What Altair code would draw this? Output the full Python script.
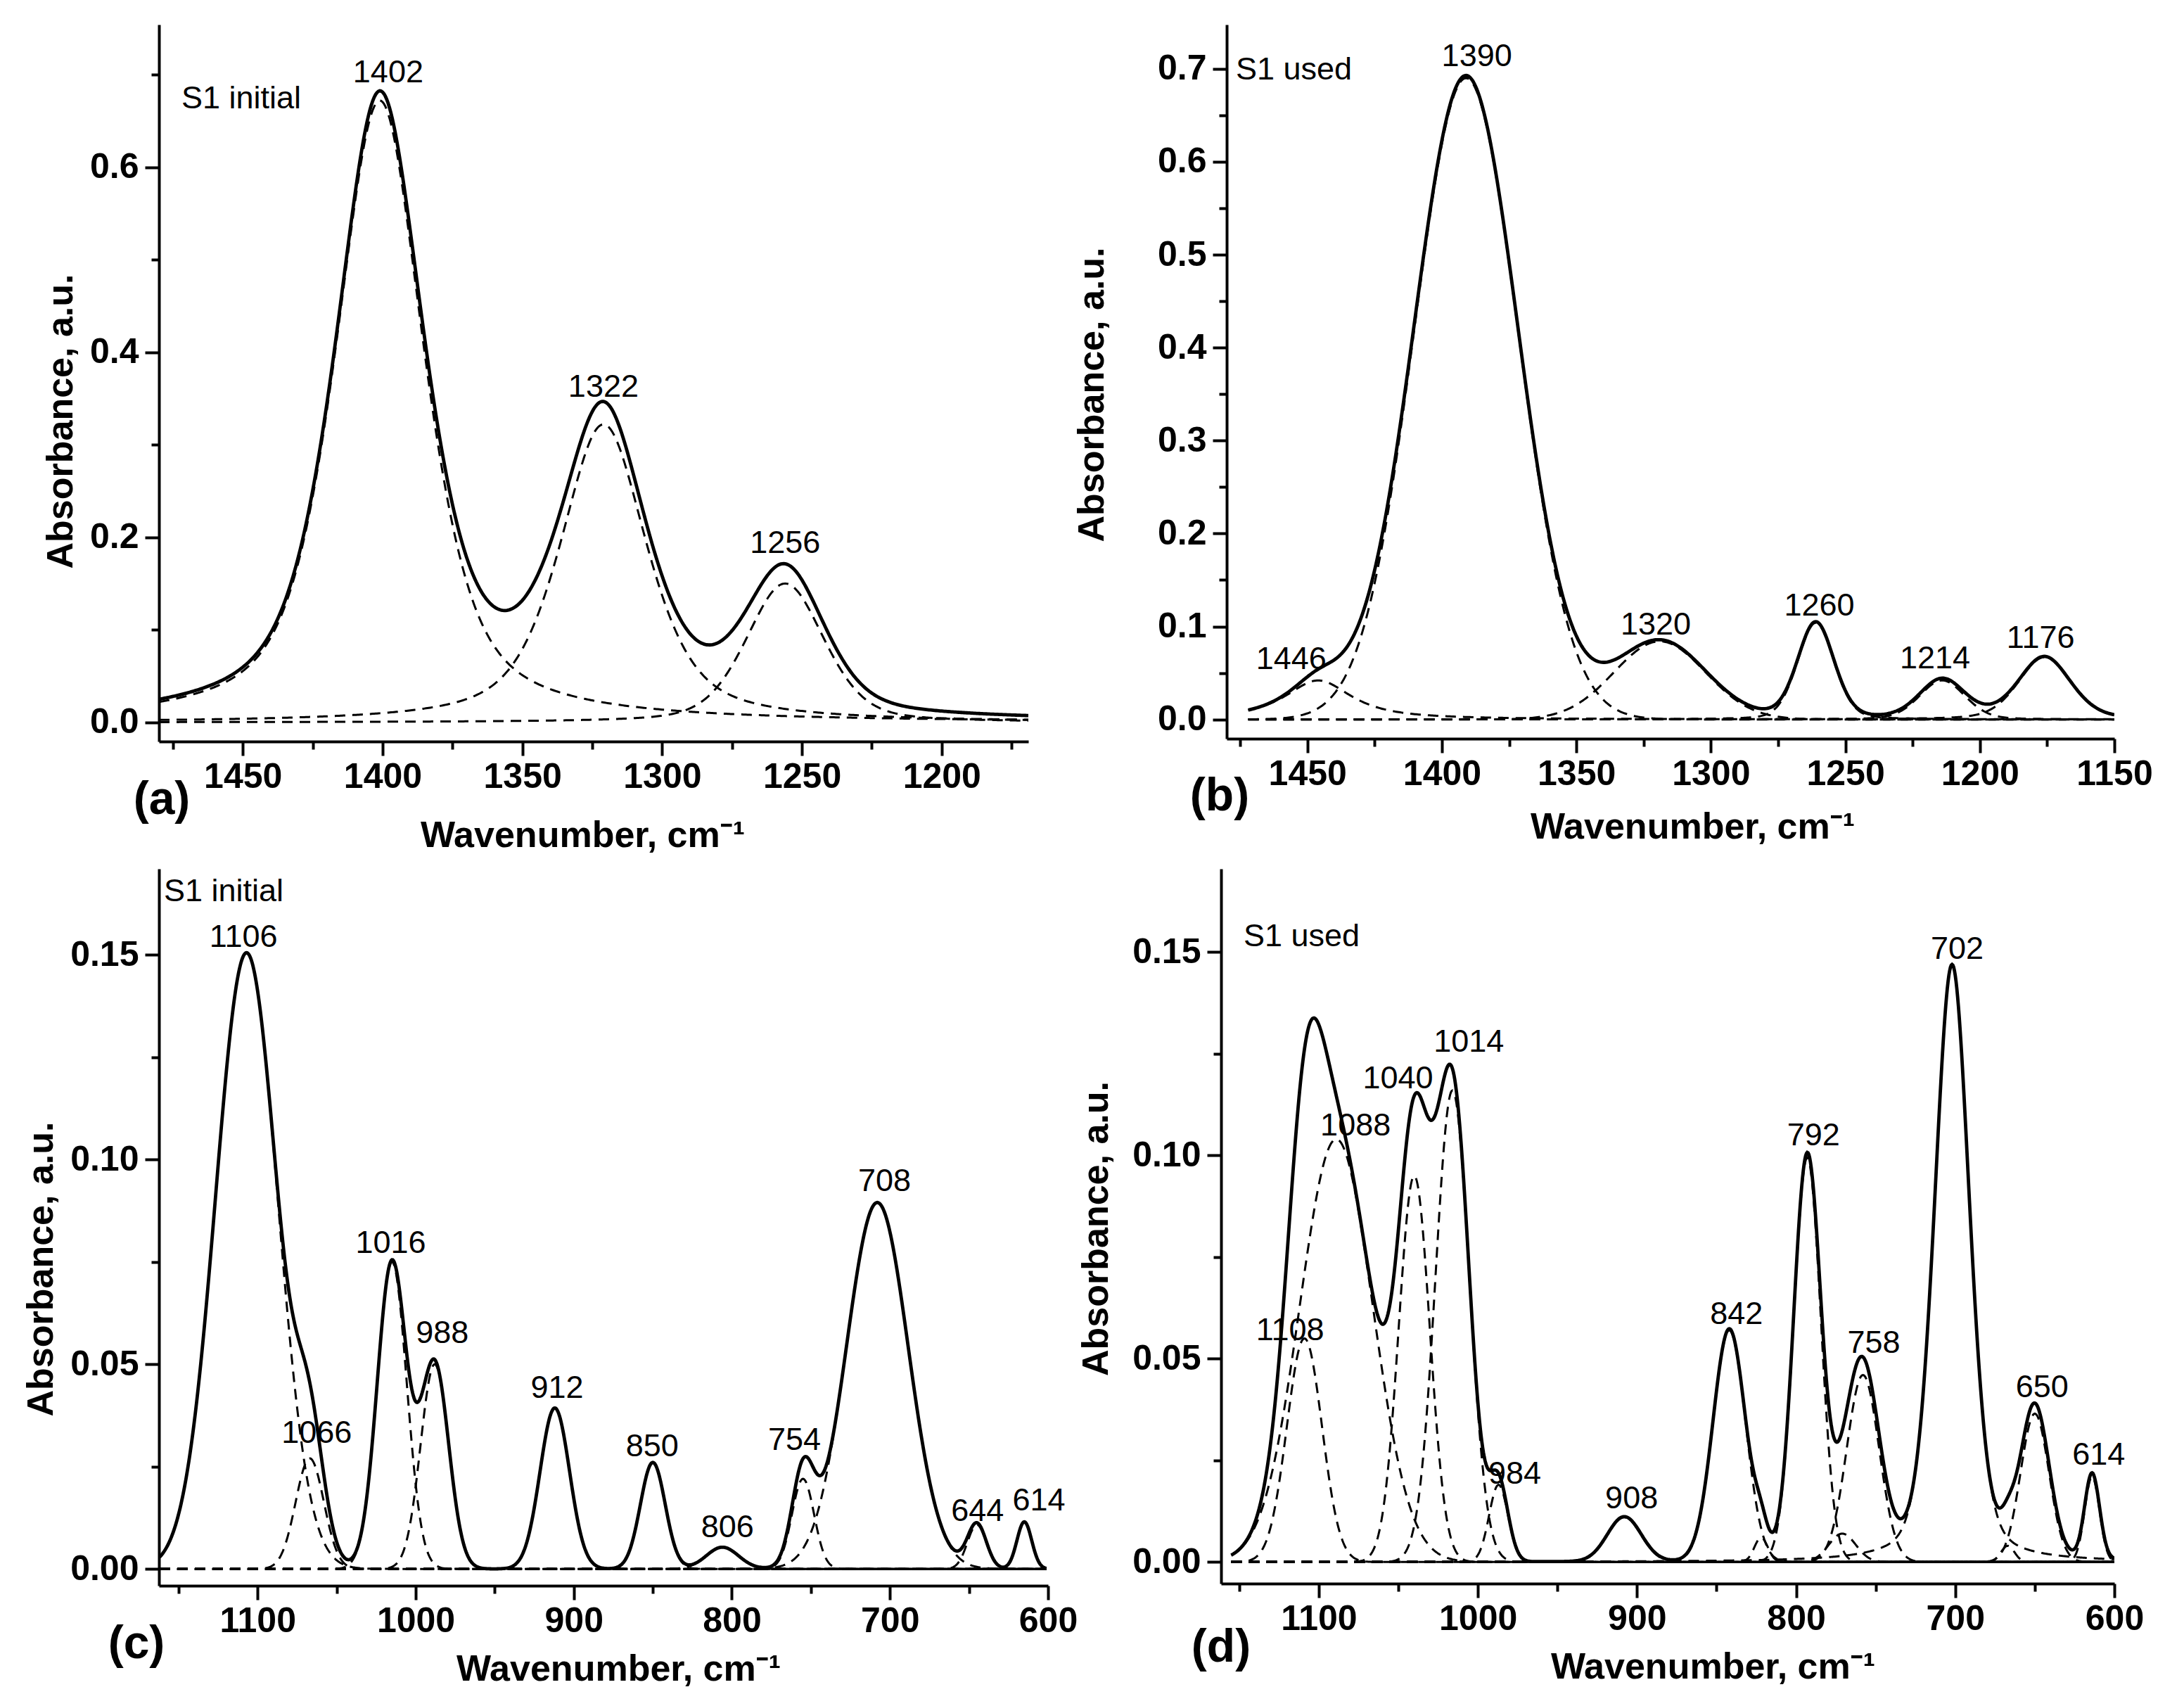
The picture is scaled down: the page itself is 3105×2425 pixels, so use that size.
import numpy as np
import pandas as pd
import altair as alt

FONT = "Liberation Sans"

# ---------------- (a) S1 initial, 1480-1169 cm-1 ----------------
a_pos = [1401, 1321, 1256]
a_amp = [0.672, 0.322, 0.150]
a_fwhm = [38, 37, 33]
a_eta = [0.6, 0.6, 0.35]
a_span = [1169, 1480]
a_lab = ["1402", "1322", "1256"]
a_lab_x = [1398, 1321, 1256]
a_lab_y = [0.692, 0.352, 0.183]
a_xticks = [1475, 1450, 1425, 1400, 1375, 1350, 1325, 1300, 1275, 1250, 1225, 1200, 1175]
a_yticks = [0.0, 0.1, 0.2, 0.3, 0.4, 0.5, 0.6, 0.7]

# ---------------- (b) S1 used, 1480-1150 cm-1 ----------------
b_pos = [1446, 1391, 1319, 1261, 1214, 1176]
b_amp = [0.042, 0.690, 0.084, 0.104, 0.042, 0.067]
b_fwhm = [30, 45.5, 40, 16, 20, 23]
b_eta = [0.9, 0.0, 0.0, 0.2, 0.2, 0.3]
b_span = [1150, 1472]
b_lab = ["1446", "1390", "1320", "1260", "1214", "1176"]
b_lab_x = [1456, 1387, 1320.5, 1259.7, 1216.7, 1177.4]
b_lab_y = [0.054, 0.703, 0.0915, 0.112, 0.055, 0.077]
b_xticks = [1475, 1450, 1425, 1400, 1375, 1350, 1325, 1300, 1275, 1250, 1225, 1200, 1175, 1150]
b_yticks = [0.0, 0.05, 0.1, 0.15, 0.2, 0.25, 0.3, 0.35, 0.4, 0.45, 0.5, 0.55, 0.6, 0.65, 0.7]

# ---------------- (c) S1 initial, 1160-600 cm-1 ----------------
c_pos = [1107, 1067, 1015, 988, 912, 850, 806, 755, 708, 645, 615]
c_amp = [0.1505, 0.027, 0.075, 0.050, 0.0393, 0.026, 0.0053, 0.022, 0.0895, 0.0108, 0.0115]
c_fwhm = [46, 21, 22, 21, 22, 18.5, 24, 16.5, 46, 14, 11]
c_eta = [0, 0, 0, 0, 0, 0, 0, 0, 0, 0, 0]
c_span = [601, 1162]
c_lab = ["1106", "1066", "1016", "988", "912", "850", "806", "754", "708", "644", "614"]
c_lab_x = [1108.9, 1062.6, 1015.8, 983.2, 910.6, 850.4, 802.8, 760.4, 703.4, 644.6, 605.8]
c_lab_y = [0.152, 0.0308, 0.0771, 0.0551, 0.0417, 0.0275, 0.0077, 0.029, 0.0923, 0.0117, 0.0143]
c_xticks = [1150, 1100, 1050, 1000, 950, 900, 850, 800, 750, 700, 650, 600]
c_yticks = [0.0, 0.025, 0.05, 0.075, 0.1, 0.125, 0.15]

# ---------------- (d) S1 used, 1160-600 cm-1 ----------------
d_pos = [1109, 1089, 1040, 1016, 987, 908, 842, 822, 793, 771, 758, 702, 667, 650, 614]
d_amp = [0.055, 0.104, 0.095, 0.116, 0.019, 0.011, 0.057, 0.006, 0.0995, 0.007, 0.046, 0.147, 0.004, 0.0365, 0.021]
d_fwhm = [26, 54, 23, 25, 14, 25, 24, 10, 20, 20, 24, 26, 10, 21, 11]
d_eta = [0, 0, 0, 0, 0, 0, 0, 0, 0, 0, 0, 0.3, 0, 0, 0]
d_span = [600, 1155]
d_lab = ["1108", "1088", "1040", "1014", "984", "908", "842", "792", "758", "702", "650", "614"]
d_lab_x = [1118, 1076.9, 1050.2, 1005.7, 976.8, 903.4, 837.5, 789.1, 751.2, 698.8, 645.4, 609.8]
d_lab_y = [0.0546, 0.105, 0.1165, 0.1255, 0.0193, 0.0133, 0.0586, 0.1025, 0.0515, 0.1484, 0.0406, 0.024]
d_xticks = [1150, 1100, 1050, 1000, 950, 900, 850, 800, 750, 700, 650, 600]
d_yticks = [0.0, 0.025, 0.05, 0.075, 0.1, 0.125, 0.15]


def band(x, pos, amp, fwhm, eta):
    d = (x - pos) / fwhm
    g = np.exp(-4 * np.log(2) * d * d)
    lor = 1.0 / (1.0 + 4 * d * d)
    return amp * (eta * lor + (1 - eta) * g)


def panel(pos, amp, fwhm, eta, span, xdom, ydom, xticks, xmaj, yticks, yminor, yfmt,
          lab, lab_x, lab_y, head, head_xy, tag, tag_xy, w, h, ytitle_dy, xtitle_dx, xtitle_y,
          ytitle_pad):
    x = np.arange(span[0], span[1] + 0.001, 0.5)
    parts = []
    total = np.zeros_like(x)
    for i, (p, a, fw, e) in enumerate(zip(pos, amp, fwhm, eta)):
        yv = band(x, p, a, fw, e)
        total += yv
        parts.append(pd.DataFrame({"x": x, "y": np.round(yv, 6), "c": f"p{i}"}))
    comp_df = pd.concat(parts, ignore_index=True)
    tot_df = pd.DataFrame({"x": x, "y": np.round(total, 6)})
    lab_df = pd.DataFrame({"x": lab_x, "y": lab_y, "t": lab})

    xaxis = alt.Axis(
        values=xticks,
        labelExpr=f"datum.value % {xmaj} == 0 ? format(datum.value, 'd') : ''",
        tickSize={"condition": {"test": f"datum.value % {xmaj} == 0", "value": 20}, "value": 11},
        title="Wavenumber, cm\u207b\u00b9",
        titleX=w / 2 + xtitle_dx, titleY=xtitle_y, titleBaseline="middle",
        labelPadding=5, labelFlush=False, labelOverlap=False,
    )
    test = f"round(datum.value / {yminor}) % 2 == 0"
    yaxis = alt.Axis(
        values=yticks,
        labelExpr=f"{test} ? format(datum.value, '{yfmt}') : ''",
        tickSize={"condition": {"test": test, "value": 20}, "value": 11},
        title="Absorbance, a.u.",
        titleY=h / 2 + ytitle_dy,
        labelPadding=9, titlePadding=ytitle_pad, labelFlush=False, labelOverlap=False,
    )
    X = alt.X("x:Q", scale=alt.Scale(domain=xdom, nice=False, zero=False), axis=xaxis)
    Y = alt.Y("y:Q", scale=alt.Scale(domain=ydom, nice=False, zero=False), axis=yaxis)

    comps = alt.Chart(comp_df).mark_line(
        color="black", strokeWidth=3, strokeDash=[15, 10], clip=True
    ).encode(x=X, y=Y, detail="c:N")
    tot = alt.Chart(tot_df).mark_line(color="black", strokeWidth=4.8, clip=True).encode(x=X, y=Y)
    labels = alt.Chart(lab_df).mark_text(
        font=FONT, fontSize=45, align="center", baseline="alphabetic", color="black"
    ).encode(x=X, y=Y, text="t:N")
    header = alt.Chart(pd.DataFrame({"t": [head]})).mark_text(
        font=FONT, fontSize=45, align="left", baseline="middle", color="black"
    ).encode(x=alt.value(head_xy[0]), y=alt.value(head_xy[1]), text="t:N")
    tagm = alt.Chart(pd.DataFrame({"t": [tag]})).mark_text(
        font=FONT, fontSize=66, fontWeight="bold", align="center", baseline="middle", color="black"
    ).encode(x=alt.value(tag_xy[0]), y=alt.value(h + tag_xy[1]), text="t:N")
    return alt.layer(comps, tot, labels, header, tagm).properties(width=w, height=h)


pa = panel(a_pos, a_amp, a_fwhm, a_eta, a_span, [1480, 1169], [-0.0207, 0.754],
           a_xticks, 50, a_yticks, 0.1, ".1f", a_lab, a_lab_x, a_lab_y,
           "S1 initial", (32, 105), "(a)", (4, 83), 1236, 1019, 54, -16, 133, 14)
pb = panel(b_pos, b_amp, b_fwhm, b_eta, b_span, [1480, 1150], [-0.0207, 0.7475],
           b_xticks, 50, b_yticks, 0.05, ".1f", b_lab, b_lab_x, b_lab_y,
           "S1 used", (13, 64), "(b)", (-10, 82), 1262, 1015, 18, 31, 125, 66)
pc = panel(c_pos, c_amp, c_fwhm, c_eta, c_span, [1162.4, 600], [-0.0041, 0.171],
           c_xticks, 100, c_yticks, 0.025, ".2f", c_lab, c_lab_x, c_lab_y,
           "S1 initial", (7, 32), "(c)", (-32, 83), 1264, 1019, 59, 21, 118, 14)
pd_ = panel(d_pos, d_amp, d_fwhm, d_eta, d_span, [1161.4, 600], [-0.0053, 0.1705],
            d_xticks, 100, d_yticks, 0.025, ".2f", d_lab, d_lab_x, d_lab_y,
            "S1 used", (32, 96), "(d)", (0, 91), 1270, 1016, 3, 64, 118, 24)

row1 = alt.hconcat(pa, pb, spacing=64)
row2 = alt.hconcat(pc, pd_, spacing=0)

chart = alt.vconcat(row1, row2, spacing=22).properties(
    padding={"left": 24, "top": 27, "right": 10, "bottom": 10},
    background="white",
).configure_view(stroke=None).configure_axis(
    labelFont=FONT, titleFont=FONT, labelFontSize=50, titleFontSize=52,
    labelFontWeight="bold", titleFontWeight="bold", labelColor="black", titleColor="black",
    domainColor="black", domainWidth=4, tickColor="black", tickWidth=4, grid=False,
).configure_text(font=FONT)

chart.save("out.html", embed_options={"renderer": "svg", "actions": False})
